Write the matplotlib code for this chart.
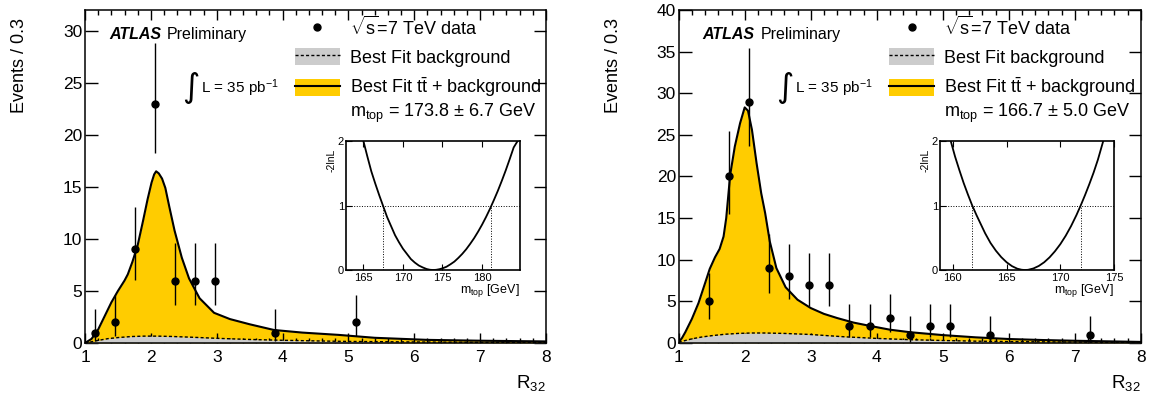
import matplotlib
matplotlib.use('Agg')
import matplotlib.pyplot as plt
from matplotlib.patches import Patch
from matplotlib.lines import Line2D
from matplotlib.ticker import MultipleLocator

plt.rcParams['font.family'] = ['Liberation Sans', 'DejaVu Sans']
plt.rcParams['mathtext.fontset'] = 'custom'
plt.rcParams['mathtext.rm'] = 'Liberation Sans'
plt.rcParams['mathtext.it'] = 'Liberation Sans:italic'
plt.rcParams['mathtext.bf'] = 'Liberation Sans:bold'
plt.rcParams['mathtext.sf'] = 'Liberation Sans'

# ---------------- data ----------------
# left panel: data points (bin centres, counts, asymmetric errors)
left_x = [1.152, 1.457, 1.761, 2.065, 2.370, 2.674, 2.978, 3.891, 5.109]
left_n = [1, 2, 9, 23, 6, 6, 6, 1, 2]
left_elo = [0.83, 1.29, 2.94, 4.77, 2.38, 2.38, 2.38, 0.83, 1.29]
left_ehi = [2.30, 2.64, 4.11, 5.86, 3.58, 3.58, 3.58, 2.30, 2.64]

# left panel: best fit ttbar + background curve
left_tot_x = [1.00, 1.10, 1.20, 1.30, 1.40, 1.50, 1.60, 1.65, 1.72, 1.80, 1.88, 1.95,
              2.01, 2.05, 2.08, 2.12, 2.17, 2.22, 2.28, 2.36, 2.47, 2.58, 2.74, 2.96,
              3.20, 3.50, 3.87, 4.30, 4.85, 5.40, 6.20, 7.00, 8.00]
left_tot_y = [0.0, 0.4, 1.3, 2.6, 3.9, 5.0, 6.0, 6.6, 7.8, 9.4, 11.7, 13.8,
              15.4, 16.2, 16.5, 16.3, 15.8, 14.9, 13.1, 10.8, 8.2, 6.2, 4.3, 2.9,
              2.3, 1.8, 1.25, 1.0, 0.78, 0.5, 0.3, 0.22, 0.15]
# left panel: best fit background
left_bg_x = [1.0, 1.1, 1.2, 1.35, 1.5, 1.7, 1.9, 2.1, 2.3, 2.6, 3.0, 3.5, 4.0, 4.5, 5.0, 6.0, 7.0, 8.0]
left_bg_y = [0.0, 0.12, 0.25, 0.42, 0.52, 0.62, 0.66, 0.66, 0.63, 0.56, 0.45, 0.34, 0.26, 0.2, 0.15, 0.1, 0.06, 0.04]

# right panel
right_x = [1.457, 1.761, 2.065, 2.370, 2.674, 2.978, 3.283, 3.587, 3.891, 4.196, 4.500,
           4.804, 5.109, 5.717, 7.239]
right_n = [5, 20, 29, 9, 8, 7, 7, 2, 2, 3, 1, 2, 2, 1, 1]
right_elo = [2.16, 4.45, 5.36, 2.94, 2.77, 2.58, 2.58, 1.29, 1.29, 1.63, 0.83, 1.29, 1.29, 0.83, 0.83]
right_ehi = [3.38, 5.52, 6.44, 4.11, 3.95, 3.77, 3.77, 2.64, 2.64, 2.92, 2.30, 2.64, 2.64, 2.30, 2.30]

right_tot_x = [1.00, 1.05, 1.10, 1.20, 1.30, 1.35, 1.40, 1.47, 1.55, 1.62, 1.68, 1.72, 1.75,
               1.78, 1.85, 1.93, 2.00, 2.05, 2.11, 2.18, 2.25, 2.31, 2.38, 2.48, 2.62,
               2.80, 3.00, 3.20, 3.40, 3.65, 3.90, 4.20, 4.50, 5.00, 5.50, 6.00, 6.50,
               7.00, 7.50, 8.00]
right_tot_y = [0.1, 0.6, 1.3, 2.9, 4.8, 6.0, 7.2, 8.9, 10.3, 11.3, 12.8, 15.0, 17.6,
               20.2, 23.6, 26.4, 28.3, 27.9, 25.6, 21.6, 18.0, 15.6, 12.2, 9.0, 6.7,
               5.2, 4.2, 3.5, 3.0, 2.45, 2.05, 1.6, 1.3, 0.95, 0.68, 0.48, 0.36,
               0.27, 0.2, 0.13]
right_bg_x = [1.0, 1.1, 1.2, 1.35, 1.5, 1.7, 1.9, 2.1, 2.3, 2.6, 3.0, 3.5, 4.0, 4.5, 5.0, 5.5, 6.0, 7.0, 8.0]
right_bg_y = [0.1, 0.3, 0.5, 0.72, 0.88, 1.05, 1.15, 1.2, 1.2, 1.15, 1.02, 0.75, 0.55, 0.4, 0.3, 0.22, 0.17, 0.11, 0.07]

# insets: -2lnL vs m_top
left_m = [165.0, 165.5, 166.0, 166.5, 167.0, 167.5, 168.0, 168.5, 169.0, 169.5, 170.0,
          170.5, 171.0, 171.5, 172.0, 172.5, 173.0, 173.4, 173.8, 174.2, 174.6, 175.0,
          175.5, 176.0, 176.5, 177.0, 177.5, 178.0, 178.5, 179.0, 179.5, 180.0, 180.5,
          181.0, 181.5, 182.0, 182.5, 183.0, 183.5, 184.0, 184.5]
left_nll = [2.0, 1.76, 1.53, 1.34, 1.16, 0.99, 0.82, 0.68, 0.54, 0.43, 0.33,
            0.25, 0.17, 0.115, 0.07, 0.04, 0.015, 0.004, 0.0, 0.003, 0.012, 0.026,
            0.05, 0.088, 0.13, 0.187, 0.25, 0.322, 0.405, 0.494, 0.594, 0.702, 0.82,
            0.947, 1.085, 1.228, 1.383, 1.546, 1.72, 1.90, 2.0]
left_cross = [167.5, 181.1]
left_mlim = [162.8, 184.8]

right_m = [159.8, 160.2, 160.6, 161.0, 161.4, 161.8, 162.2, 162.6, 163.0, 163.5, 164.0,
           164.5, 165.0, 165.5, 166.0, 166.4, 166.7, 167.0, 167.5, 168.0, 168.5, 169.0,
           169.5, 170.0, 170.5, 171.0, 171.5, 171.9, 172.3, 172.7, 173.1, 173.5, 174.0]
right_nll = [2.0, 1.76, 1.55, 1.35, 1.17, 1.0, 0.85, 0.71, 0.57, 0.42, 0.30,
             0.20, 0.12, 0.06, 0.02, 0.004, 0.0, 0.003, 0.024, 0.063, 0.12, 0.196,
             0.29, 0.40, 0.53, 0.68, 0.85, 1.0, 1.16, 1.33, 1.51, 1.71, 2.0]
right_cross = [161.8, 171.9]
right_mlim = [158.8, 175.0]

nll_level = 1.0

YELLOW = '#FFCC00'
GRAY = '#CCCCCC'
DASH = (0, (2.2, 1.6))

fig = plt.figure(figsize=(11.49, 3.99), dpi=100)


def panel(rect, inset_rect, dx, dn, elo, ehi, tx, ty, bx, by, ymax, mtop_label,
          m, nll, cross, mlim):
    ax = fig.add_axes(rect)
    ax.fill_between(tx, 0, ty, color=YELLOW, lw=0, zorder=1)
    ax.fill_between(bx, 0, by, color=GRAY, lw=0, zorder=2)
    ax.plot(bx, by, color='k', ls=DASH, lw=1.0, zorder=3)
    ax.plot(tx, ty, color='k', lw=1.5, zorder=3)
    ax.errorbar(dx, dn, yerr=[elo, ehi], fmt='o', color='k', ms=5, elinewidth=1.0,
                capsize=0, zorder=4)
    ax.set_xlim(1, 8)
    ax.set_ylim(0, ymax)
    ax.xaxis.set_major_locator(MultipleLocator(1))
    ax.xaxis.set_minor_locator(MultipleLocator(0.2))
    ax.yaxis.set_major_locator(MultipleLocator(5))
    ax.tick_params(which='both', direction='in', top=True, right=True)
    ax.tick_params(axis='x', which='major', length=7, width=1, pad=5, labelsize=12.5)
    ax.tick_params(axis='x', which='minor', length=3.5, width=1)
    ax.tick_params(axis='y', which='major', length=9, width=1, pad=2, labelsize=12.5)
    for s in ax.spines.values():
        s.set_linewidth(1.1)

    ax.text(-0.1416, 0.976, 'Events / 0.3', rotation=90, ha='center', va='top',
            fontsize=13, transform=ax.transAxes)
    ax.text(1.0, -0.135, r'R$_{\mathrm{32}}$', ha='right', va='baseline',
            fontsize=13.5, transform=ax.transAxes)
    ax.text(0.052, 0.913, 'ATLAS', fontsize=11.5, fontweight='bold', fontstyle='italic',
            va='baseline', transform=ax.transAxes)
    ax.text(0.178, 0.913, 'Preliminary', fontsize=11.5, va='baseline', transform=ax.transAxes)
    ax.text(0.229, 0.767, '\u222b', fontsize=24, ha='center', va='center',
            family='DejaVu Sans', transform=ax.transAxes)
    ax.text(0.251, 0.750, r'L = 35 pb$^{\mathrm{-1}}$', fontsize=11, va='baseline',
            transform=ax.transAxes)
    ax.text(0.5738, 0.6796, mtop_label, fontsize=13, va='baseline', transform=ax.transAxes)

    h_data = Line2D([], [], marker='o', color='k', ls='none', ms=5)
    h_bg = (Patch(facecolor=GRAY, edgecolor='none'), Line2D([], [], color='k', ls=DASH, lw=1.0))
    h_tot = (Patch(facecolor=YELLOW, edgecolor='none'), Line2D([], [], color='k', lw=1.5))
    ax.legend([h_data, h_bg, h_tot],
              [r'$\sqrt{\mathrm{s}}$=7 TeV data', 'Best Fit background',
               r'Best Fit t$\bar{\mathrm{t}}$ + background'],
              loc='upper left', bbox_to_anchor=(0.4555, 0.984), frameon=False,
              fontsize=13, handlelength=2.49, handleheight=1.08, handletextpad=0.53,
              labelspacing=0.52, borderpad=0, borderaxespad=0, numpoints=1)

    axi = fig.add_axes(inset_rect)
    axi.plot(m, nll, color='k', lw=1.3)
    axi.axhline(nll_level, color='k', ls=':', lw=0.7)
    axi.vlines(cross, 0, nll_level, color='k', ls=':', lw=0.7)
    axi.set_xlim(*mlim)
    axi.set_ylim(0, 2)
    axi.xaxis.set_major_locator(MultipleLocator(5))
    axi.set_yticks([0, 1, 2])
    axi.tick_params(direction='in', top=True, right=False, length=4, width=0.8,
                    labelsize=8, pad=2)
    axi.tick_params(axis='y', pad=1.5)
    for s in axi.spines.values():
        s.set_linewidth(1.2)
    axi.text(-0.083, 0.94, '-2lnL', rotation=90, ha='center', va='top', fontsize=7.5,
             transform=axi.transAxes)
    axi.text(1.0, -0.175, r'm$_{\mathrm{top}}$ [GeV]', ha='right', va='baseline',
             fontsize=9, transform=axi.transAxes)
    return ax, axi


panel([85 / 1149, 56 / 399, 461 / 1149, 333 / 399],
      [346 / 1149, 129 / 399, 174 / 1149, 129 / 399],
      left_x, left_n, left_elo, left_ehi, left_tot_x, left_tot_y, left_bg_x, left_bg_y,
      32, r'm$_{\mathrm{top}}$ = 173.8 $\pm$ 6.7 GeV',
      left_m, left_nll, left_cross, left_mlim)

panel([678.7 / 1149, 56 / 399, 462 / 1149, 333 / 399],
      [940 / 1149, 129 / 399, 174 / 1149, 129 / 399],
      right_x, right_n, right_elo, right_ehi, right_tot_x, right_tot_y, right_bg_x, right_bg_y,
      40, r'm$_{\mathrm{top}}$ = 166.7 $\pm$ 5.0 GeV',
      right_m, right_nll, right_cross, right_mlim)

fig.savefig('out.png', dpi=100)
